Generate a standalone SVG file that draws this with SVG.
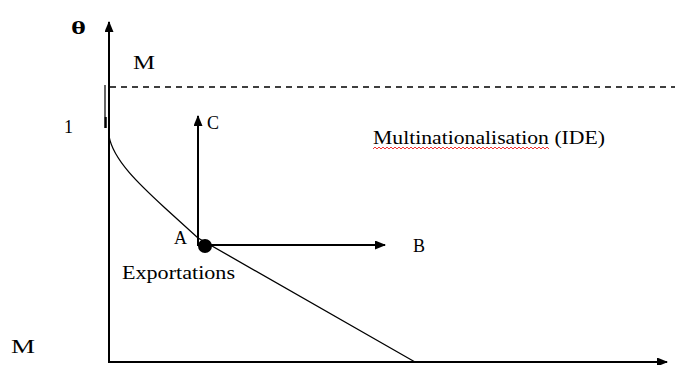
<svg xmlns="http://www.w3.org/2000/svg" width="675" height="365" viewBox="0 0 675 365">
<style>
text{font-family:"Liberation Serif","Times New Roman",serif;font-size:18px;fill:#000}
.ax{stroke:#000;stroke-width:2;fill:none}
.ln{stroke:#000;stroke-width:1.3;fill:none}
</style>
<defs>
<marker id="ah" markerWidth="11" markerHeight="9" refX="10" refY="4.5" orient="auto" markerUnits="userSpaceOnUse">
<path d="M0,0 L11,4.5 L0,9 Z" fill="#000"/>
</marker>
</defs>
<rect width="675" height="365" fill="#fff"/>
<g id="connectors">
<line class="ax" x1="109" y1="363" x2="109" y2="22" marker-end="url(#ah)"/>
<line class="ax" x1="109" y1="362" x2="667" y2="362" marker-end="url(#ah)"/>
<line x1="110" y1="87" x2="675" y2="87" stroke="#000" stroke-width="1.5" stroke-dasharray="6,5"/>
<line x1="105" y1="85" x2="105" y2="117" stroke="#000" stroke-width="1.2"/>
<line x1="105.5" y1="117" x2="105.5" y2="128" stroke="#000" stroke-width="2.5"/>
<path class="ln" d="M109,136 C113,160 140,185 165,208 L198,238 L415,362"/>
<line class="ax" x1="198" y1="246" x2="198" y2="116" marker-end="url(#ah)"/>
<line class="ax" x1="205" y1="245" x2="385" y2="245" marker-end="url(#ah)"/>
</g>
<g id="pointA">
<circle cx="205" cy="246" r="7" fill="#000"/>
<text x="174" y="244">A</text>
</g>
<g id="labels">
<text x="71" y="34" font-weight="bold" font-size="24" textLength="15" lengthAdjust="spacingAndGlyphs">θ</text>
<text x="133" y="69" textLength="22" lengthAdjust="spacingAndGlyphs">M</text>
<text x="64" y="133">1</text>
<text x="207" y="129">C</text>
<text x="413" y="252">B</text>
<text x="122" y="279" textLength="113" lengthAdjust="spacingAndGlyphs">Exportations</text>
<text x="373" y="144" textLength="232" lengthAdjust="spacingAndGlyphs">Multinationalisation (IDE)</text>
<path d="M373,149 l2,-2 l2,2 l2,-2 l2,2 l2,-2 l2,2 l2,-2 l2,2 l2,-2 l2,2 l2,-2 l2,2 l2,-2 l2,2 l2,-2 l2,2 l2,-2 l2,2 l2,-2 l2,2 l2,-2 l2,2 l2,-2 l2,2 l2,-2 l2,2 l2,-2 l2,2 l2,-2 l2,2 l2,-2 l2,2 l2,-2 l2,2 l2,-2 l2,2 l2,-2 l2,2 l2,-2 l2,2 l2,-2 l2,2 l2,-2 l2,2 l2,-2 l2,2 l2,-2 l2,2 l2,-2 l2,2 l2,-2 l2,2 l2,-2 l2,2 l2,-2 l2,2 l2,-2 l2,2 l2,-2 l2,2 l2,-2 l2,2 l2,-2 l2,2 l2,-2 l2,2 l2,-2 l2,2 l2,-2 l2,2 l2,-2 l2,2 l2,-2 l2,2 l2,-2 l2,2 l2,-2 l2,2 l2,-2 l2,2 l2,-2 l2,2 l2,-2 l2,2 l2,-2 l2,2 l2,-2 l2,2" stroke="#e00" stroke-width="0.8" fill="none"/>
<text x="11" y="353" textLength="24" lengthAdjust="spacingAndGlyphs">M</text>
</g>
</svg>
